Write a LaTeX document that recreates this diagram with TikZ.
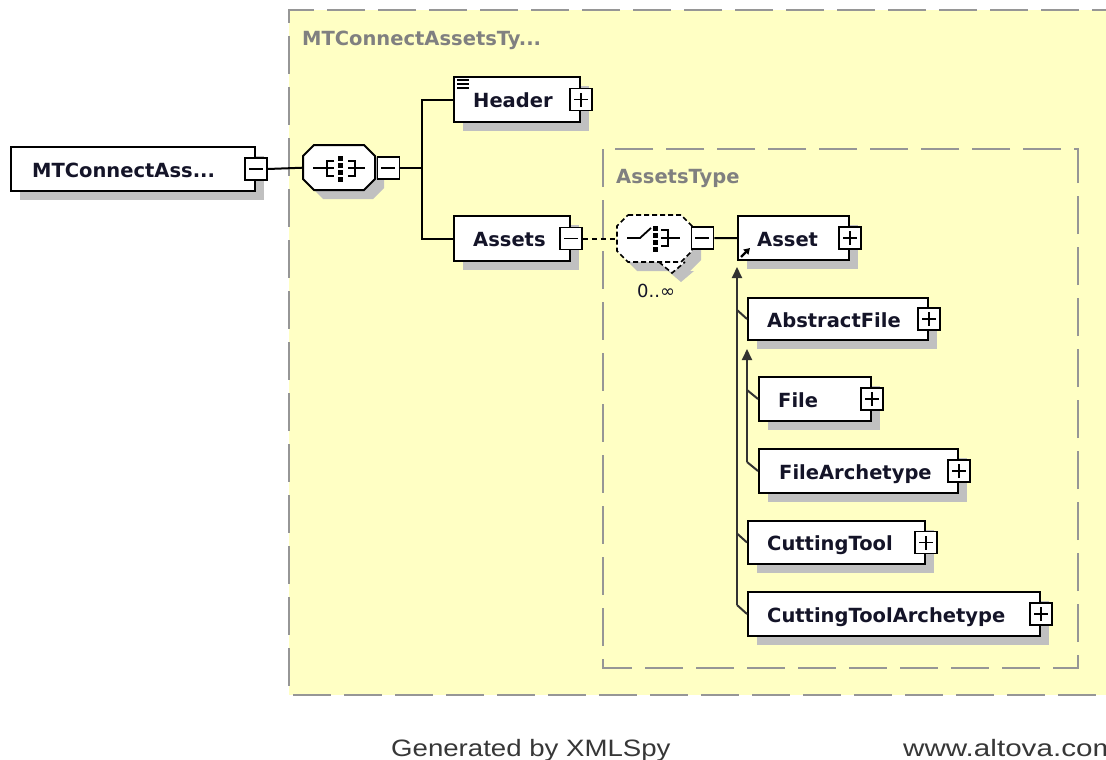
\documentclass[tikz,border=0pt]{standalone}
\usepackage{fontspec}
\setmainfont{DejaVu Sans}
\newfontfamily\footfont{Liberation Sans}
\usetikzlibrary{calc,arrows.meta,shadows}

\definecolor{paneyellow}{RGB}{255,255,196}
\definecolor{panegray}{RGB}{150,150,150}
\definecolor{shadowgray}{RGB}{192,192,192}
\definecolor{labelgray}{RGB}{128,128,128}
\definecolor{inkdark}{RGB}{20,20,40}
\definecolor{footgray}{RGB}{55,55,55}
\definecolor{substline}{RGB}{50,50,50}

% chamfered outline: x1 y1 x2 y2 corner
\newcommand\chamferpath[5]{(#1+#5,#2) -- (#3-#5,#2) -- (#3,#2+#5) -- (#3,#4-#5) -- (#3-#5,#4) -- (#1+#5,#4) -- (#1,#4-#5) -- (#1,#2+#5) -- cycle}

\tikzset{
  elem/.style={draw=black, line width=2pt, fill=white, inner sep=0pt, anchor=north west,
    drop shadow={shadow xshift=9pt, shadow yshift=-9pt, opacity=1, fill=shadowgray}},
  anchorbox/.style={inner sep=0pt, anchor=north west},
  lbl/.style={font=\fontsize{19.5}{20}\selectfont\bfseries, text=inkdark, inner sep=0pt, anchor=base west},
  grouplbl/.style={font=\fontsize{19.5}{20}\selectfont\bfseries, text=labelgray, inner sep=0pt, anchor=base west},
  btn/.style={draw=black, line width=1.8pt, fill=white, minimum size=22pt, inner sep=0pt},
  minusbtn/.style={btn, path picture={
      \draw[line width=1.8pt] ($(path picture bounding box.center)+(-7pt,0)$) -- ++(14pt,0);}},
  plusbtn/.style={btn, path picture={
      \draw[line width=1.8pt] ($(path picture bounding box.center)+(-7pt,0)$) -- ++(14pt,0);
      \draw[line width=1.8pt] ($(path picture bounding box.center)+(0,-7pt)$) -- ++(0,14pt);}},
  conn/.style={line width=2pt, draw=black},
  optconn/.style={line width=2pt, draw=black, dash pattern=on 5pt off 4pt},
  paneborder/.style={draw=panegray, line width=2pt, dash pattern=on 38pt off 13pt},
  icon/.style={line width=1.8pt, draw=black},
  subst/.style={line width=2pt, draw=substline},
  substarrow/.style={subst, -{Triangle[width=10pt,length=11pt]}},
}

\begin{document}
\begin{tikzpicture}[x=1pt,y=-1pt]
\useasboundingbox (0,0) rectangle (1106,760);
\fill[white] (0,0) rectangle (1106,760);

% complex type pane and nested group pane
\fill[paneyellow] (289,10) rectangle (1130,695);
\draw[paneborder] (1130,10) -- (289,10) -- (289,695) -- (1130,695);
\draw[paneborder] (603,149) rectangle (1078,668);
\node[grouplbl] (outerlbl) at (302,46) {MTConnectAssetsTy...};
\node[grouplbl] (innerlbl) at (616,183) {AssetsType};

% sequence compositor
\node[anchorbox, minimum width=72pt, minimum height=45pt] (seq) at (303,145) {};
\fill[shadowgray] \chamferpath{312}{154}{384}{199}{11};
\draw[fill=white, line width=2pt] \chamferpath{303}{145}{375}{190}{11};
\draw[icon] (313,168) -- (334,168);
\draw[icon] (334,161) -- (327,161) -- (327,176) -- (334,176);
\draw[icon] (348,161) -- (355,161) -- (355,176) -- (348,176);
\draw[icon] (348,168) -- (365,168);
\foreach \yy in {156,163,170,177} \fill (337.5,\yy) rectangle ++(5,5);

% optional, repeating choice compositor
\node[anchorbox, minimum width=75pt, minimum height=48pt] (choice) at (617,215) {};
\fill[shadowgray] \chamferpath{626}{224}{701}{271}{11};
\fill[shadowgray] (668,271) -- (681,282) -- (694,271) -- cycle;
\fill[white] \chamferpath{617}{215}{692}{262}{11};
\fill[white] (659,262) -- (672,273) -- (685,262) -- cycle;
\draw[line width=1.6pt, dash pattern=on 5pt off 3pt] \chamferpath{617}{215}{692}{262}{11};
\draw[line width=1.6pt, dash pattern=on 5pt off 3pt] (659,262) -- (672,273) -- (685,262);
\draw[icon] (627,238) -- (640,238) -- (651,228);
\foreach \yy in {226,233,240,247} \fill (652.5,\yy) rectangle ++(5,5);
\draw[icon] (661,230) -- (668,230) -- (668,246) -- (661,246);
\draw[icon] (661,238) -- (680,238);
\node[font=\fontsize{18}{18}\selectfont, text=inkdark, inner sep=0pt, anchor=base west] (occurs) at (637,297) {0..∞};

% element boxes
\node[elem, minimum width=244pt, minimum height=44pt] (root) at (10,146) {};
\node[elem, minimum width=126pt, minimum height=45pt] (header) at (453,76) {};
\node[elem, minimum width=116pt, minimum height=45pt] (assets) at (453,215) {};
\node[elem, minimum width=111pt, minimum height=44pt] (asset) at (737,215) {};
\node[elem, minimum width=180pt, minimum height=42pt] (abstractfile) at (747,297) {};
\node[elem, minimum width=112pt, minimum height=44pt] (file) at (758,376) {};
\node[elem, minimum width=199pt, minimum height=44pt] (filearch) at (758,448) {};
\node[elem, minimum width=177pt, minimum height=43pt] (cutting) at (747,520) {};
\node[elem, minimum width=292pt, minimum height=44pt] (cuttingarch) at (747,591) {};

\node[lbl] (roottxt) at ($(root.west)+(22,8)$) {MTConnectAss...};
\node[lbl] (headertxt) at ($(header.west)+(20,8)$) {Header};
\node[lbl] (assetstxt) at ($(assets.west)+(20,8)$) {Assets};
\node[lbl] (assettxt) at ($(asset.west)+(20,8)$) {Asset};
\node[lbl] (abstractfiletxt) at ($(abstractfile.west)+(20,8)$) {AbstractFile};
\node[lbl] (filetxt) at ($(file.west)+(20,8)$) {File};
\node[lbl] (filearchtxt) at ($(filearch.west)+(21,8)$) {FileArchetype};
\node[lbl] (cuttingtxt) at ($(cutting.west)+(20,8)$) {CuttingTool};
\node[lbl] (cuttingarchtxt) at ($(cuttingarch.west)+(20,8)$) {CuttingToolArchetype};

% documentation mark on Header
\foreach \yy in {80,84,88} \draw[line width=1.6pt] (457,\yy) -- (469,\yy);
% reference mark on Asset
\draw[line width=2.4pt, -{Triangle[width=7pt,length=6pt]}] ($(asset.south west)+(4,-4)$) -- ++(9,-9);

% expand / collapse buttons
\node[minusbtn] (rootbtn) at (root.east) {};
\node[minusbtn] (seqbtn) at ($(seq.east)+(13,0)$) {};
\node[plusbtn] (headerbtn) at (header.east) {};
\node[minusbtn] (assetsbtn) at (assets.east) {};
\node[minusbtn] (choicebtn) at ($(choice.east)+(10,-1)$) {};
\node[plusbtn] (assetbtn) at (asset.east) {};
\node[plusbtn] (abstractfilebtn) at (abstractfile.east) {};
\node[plusbtn] (filebtn) at (file.east) {};
\node[plusbtn] (filearchbtn) at (filearch.east) {};
\node[plusbtn] (cuttingbtn) at (cutting.east) {};
\node[plusbtn] (cuttingarchbtn) at (cuttingarch.east) {};

% content model connectors
\draw[conn] (rootbtn.east) -- (seq.west);
\draw[conn] (seqbtn.east) -- ++(22,0) |- (header.west);
\draw[conn] (seqbtn.east) -- ++(22,0) |- (assets.west);
\draw[optconn] (assetsbtn.east) -- (choice.west |- assetsbtn.east);
\draw[conn] (choicebtn.east) -- (asset.west);

% substitution group of Asset
\coordinate (sgA) at ($(cuttingarch.west)+(-10,-9)$);
\draw[substarrow] (sgA) -- ($(asset.south west)+(0,6)$);
\draw[subst] (abstractfile.west) -- ++(-10,-9);
\draw[subst] (cutting.west) -- ++(-10,-9);
\draw[subst] (cuttingarch.west) -- (sgA);

% substitution group of AbstractFile
\coordinate (sgF) at ($(filearch.west)+(-11,-9)$);
\draw[substarrow] (sgF) -- ($(abstractfile.south west)+(0,8)$);
\draw[subst] (file.west) -- ++(-11,-9);
\draw[subst] (filearch.west) -- (sgF);

% footer
\node[anchor=base west, inner sep=0pt, font=\footfont\fontsize{23.7}{24}\selectfont, text=footgray] (gen) at (391,756) {\scalebox{1.165}[1]{Generated by XMLSpy}};
\node[anchor=base west, inner sep=0pt, font=\footfont\fontsize{23.7}{24}\selectfont, text=footgray] (altova) at (903,756) {\scalebox{1.25}[1]{www.altova.com}};
\end{tikzpicture}
\end{document}
